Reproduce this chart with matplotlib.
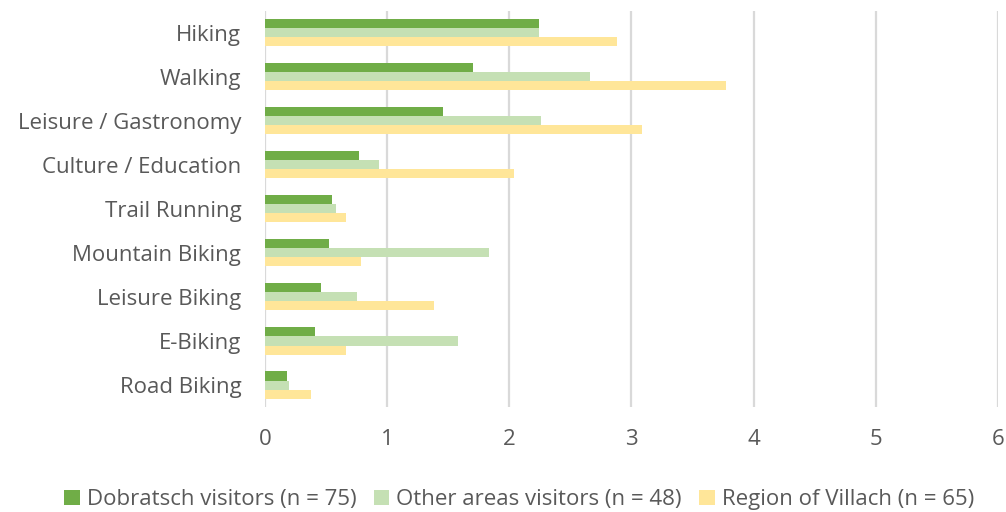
import numpy as np
import matplotlib.pyplot as plt

plt.rcParams['font.family'] = ['Open Sans', 'DejaVu Sans']

activities = ['Hiking', 'Walking', 'Leisure / Gastronomy', 'Culture / Education',
              'Trail Running', 'Mountain Biking', 'Leisure Biking', 'E-Biking',
              'Road Biking']
dobratsch = [2.24, 1.70, 1.46, 0.77, 0.55, 0.52, 0.46, 0.41, 0.18]
other_areas = [2.24, 2.66, 2.26, 0.93, 0.58, 1.83, 0.75, 1.58, 0.20]
villach = [2.88, 3.77, 3.09, 2.04, 0.66, 0.79, 1.38, 0.66, 0.38]

labels = ['Dobratsch visitors (n = 75)', 'Other areas visitors (n = 48)',
          'Region of Villach (n = 65)']
colors = ['#70AD47', '#C5E0B4', '#FFE699']

fig = plt.figure(figsize=(10.06, 5.12), dpi=100)
ax = fig.add_axes([0.2634, 0.205, 0.7286, 0.774])

y = np.arange(len(activities))
h = 0.205
for k, (vals, lab, col) in enumerate(zip([dobratsch, other_areas, villach], labels, colors)):
    ax.barh(y + (k - 1) * h, vals, height=h, color=col, label=lab, zorder=3)

ax.set_xlim(0, 6)
ax.set_ylim(len(activities) - 0.5, -0.5)
ax.set_yticks(y)
ax.set_yticklabels(activities)
ax.set_xticks(range(7))

ax.grid(axis='x', color='#d9d9d9', linewidth=1.6, zorder=0)
for s in ax.spines.values():
    s.set_visible(False)
ax.tick_params(axis='both', length=0, labelsize=16, labelcolor='#595959')
ax.tick_params(axis='x', pad=16)
ax.tick_params(axis='y', pad=17)
for t in ax.get_yticklabels():
    t.set_va('center_baseline')

# legend centred under the whole figure
fig.legend(loc='center', bbox_to_anchor=(0.516, 0.024), ncol=3, frameon=False,
           fontsize=16, handlelength=0.7, handleheight=0.7, handletextpad=0.3,
           columnspacing=0.8, labelcolor='#595959')

fig.savefig('out.png')
